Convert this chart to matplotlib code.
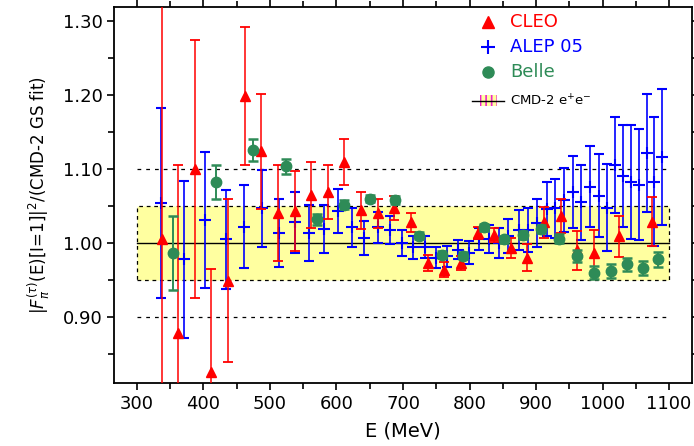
import matplotlib
matplotlib.use("Agg")
import matplotlib.pyplot as plt
from matplotlib.patches import Rectangle
from matplotlib.ticker import MultipleLocator

# CLEO
cleo_E = [337, 362, 387, 412, 437, 462, 487, 512, 537, 562, 587, 612, 637, 662, 687,
          712, 737, 762, 787, 812, 837, 862, 887, 912, 937, 962, 987, 1025, 1075]
cleo_v = [1.005, 0.878, 1.100, 0.825, 0.949, 1.199, 1.124, 1.040, 1.043, 1.065, 1.069,
          1.110, 1.044, 1.040, 1.047, 1.028, 0.973, 0.964, 0.973, 1.014, 1.011, 0.993,
          0.980, 1.028, 1.037, 0.990, 0.987, 1.009, 1.029]
cleo_err = [0.40, 0.228, 0.175, 0.14, 0.11, 0.094, 0.078, 0.065, 0.054, 0.045, 0.037,
            0.031, 0.025, 0.020, 0.016, 0.013, 0.011, 0.010, 0.009, 0.008, 0.009, 0.014,
            0.018, 0.021, 0.023, 0.026, 0.030, 0.028, 0.033]

# ALEPH 05
aleph_E = [336, 371, 403, 434, 461, 488, 513, 538, 559, 581, 602, 623, 642, 662, 680,
           698, 715, 733, 750, 766, 782, 799, 814, 829, 845, 858, 875, 888, 902, 916,
           929, 942, 956, 968, 981, 994, 1006, 1018, 1031, 1043, 1055, 1067, 1078, 1090]
aleph_v = [1.054, 0.978, 1.031, 1.005, 1.022, 1.047, 1.014, 1.028, 1.014, 1.019, 1.043,
           1.021, 1.007, 1.021, 1.017, 1.000, 0.994, 0.994, 0.980, 0.982, 0.991, 0.987,
           1.005, 1.005, 1.000, 1.010, 1.018, 1.018, 1.027, 1.046, 1.047, 1.058, 1.069,
           1.055, 1.076, 1.064, 1.048, 1.105, 1.091, 1.083, 1.079, 1.122, 1.083, 1.116]
aleph_err = [0.129, 0.106, 0.092, 0.067, 0.056, 0.052, 0.046, 0.041, 0.038, 0.032, 0.030,
             0.026, 0.023, 0.021, 0.019, 0.017, 0.016, 0.015, 0.014, 0.014, 0.013, 0.016,
             0.015, 0.019, 0.020, 0.023, 0.027, 0.030, 0.033, 0.037, 0.040, 0.043, 0.049,
             0.051, 0.055, 0.056, 0.059, 0.065, 0.069, 0.077, 0.075, 0.080, 0.087, 0.092]

# Belle
belle_E = [354, 419, 474, 524, 570, 612, 651, 688, 724, 758, 790, 822, 852, 881, 908,
           935, 962, 987, 1012, 1037, 1061, 1084]
belle_v = [0.987, 1.083, 1.126, 1.104, 1.032, 1.052, 1.060, 1.058, 1.010, 0.984, 0.983,
           1.021, 1.005, 1.011, 1.019, 1.006, 0.982, 0.960, 0.962, 0.971, 0.966, 0.978]
belle_err = [0.050, 0.023, 0.015, 0.010, 0.007, 0.006, 0.005, 0.005, 0.005, 0.005, 0.005,
             0.005, 0.005, 0.005, 0.006, 0.006, 0.008, 0.009, 0.009, 0.009, 0.010, 0.010]

# CMD-2 band and guide lines
band_x = [300, 1100]
band_lo, band_hi = 0.95, 1.05
guide_y = [0.90, 1.10]

red = "#ff0000"
blue = "#0000ff"
green = "#2e8b57"
yellow = "#ffffa0"

plt.rcParams["font.family"] = "DejaVu Sans"
plt.rcParams["hatch.linewidth"] = 1.2

fig = plt.figure(figsize=(6.94, 4.46), dpi=100)
ax = fig.add_axes([0.1647, 0.1406, 0.832, 0.8444])

ax.add_patch(Rectangle((band_x[0], band_lo), band_x[1] - band_x[0], band_hi - band_lo,
                       facecolor=yellow, edgecolor="black", linestyle=(0, (3, 3)),
                       linewidth=0.9, zorder=1))
ax.plot(band_x, [1.0, 1.0], color="black", lw=1.0, zorder=2)
for g in guide_y:
    ax.plot(band_x, [g, g], color="black", lw=0.9, ls=(0, (3, 4)), zorder=2)

ax.errorbar(aleph_E, aleph_v, yerr=aleph_err, fmt="+", color=blue, ms=9, mew=1.5,
            elinewidth=1.2, capsize=3.5, capthick=1.6, zorder=3)
ax.errorbar(cleo_E, cleo_v, yerr=cleo_err, fmt="^", color=red, ms=7,
            elinewidth=1.1, capsize=3.5, capthick=1.3, zorder=4)
ax.errorbar(belle_E, belle_v, yerr=belle_err, fmt="o", color=green, ms=7.5,
            elinewidth=1.4, capsize=3.5, capthick=1.8, zorder=5)

ax.set_xlim(266, 1134)
ax.set_ylim(0.81, 1.32)
ax.xaxis.set_major_locator(MultipleLocator(100))
ax.xaxis.set_minor_locator(MultipleLocator(50))
ax.yaxis.set_major_locator(MultipleLocator(0.1))
ax.yaxis.set_minor_locator(MultipleLocator(0.05))
ax.set_yticks([0.9, 1.0, 1.1, 1.2, 1.3])
ax.set_yticklabels(["0.90", "1.00", "1.10", "1.20", "1.30"])
ax.set_xticks([300, 400, 500, 600, 700, 800, 900, 1000, 1100])
ax.tick_params(which="both", direction="out", top=True, right=True,
               labeltop=False, labelright=False, labelsize=13, width=1.2)
ax.tick_params(which="major", length=5)
ax.tick_params(which="minor", length=4)
for s in ax.spines.values():
    s.set_linewidth(1.3)

ax.set_xlabel("E (MeV)", fontsize=14, labelpad=6)
ax.set_ylabel(r"$|F_\pi^{(\tau)}$(E)[I=1]$|^2$/(CMD-2 GS fit)", fontsize=12, labelpad=8)

# legend drawn by hand
tr = ax.transAxes
mx, tx = 0.647, 0.685
ax.plot([mx], [0.959], "^", color=red, ms=8, transform=tr, clip_on=False)
ax.text(tx, 0.959, "CLEO", color=red, fontsize=13, va="center", transform=tr)
ax.plot([mx], [0.893], "+", color=blue, ms=10, mew=1.5, transform=tr, clip_on=False)
ax.text(tx, 0.893, "ALEP 05", color=blue, fontsize=13, va="center", transform=tr)
ax.plot([mx], [0.827], "o", color=green, ms=8, transform=tr, clip_on=False)
ax.text(tx, 0.827, "Belle", color=green, fontsize=13, va="center", transform=tr)
ax.add_patch(Rectangle((0.634, 0.735), 0.028, 0.030, transform=tr, facecolor=yellow,
                       edgecolor="#ee22cc", hatch="|||", linewidth=0, zorder=6))
ax.plot([0.62, 0.675], [0.750, 0.750], color="black", lw=1.0, transform=tr, zorder=7)
ax.text(tx, 0.750, r"CMD-2 e$^{+}$e$^{-}$", color="black", fontsize=9.5,
        va="center", transform=tr)

fig.savefig("out.png", dpi=100)
